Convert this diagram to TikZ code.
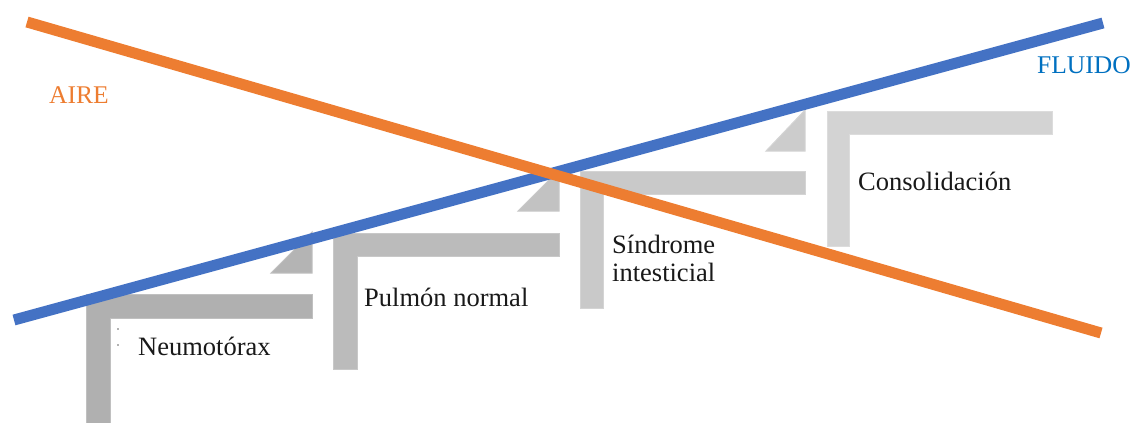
\documentclass[tikz,border=0pt]{standalone}
\usepackage{fontspec}
\setmainfont{Liberation Serif}
\definecolor{aireorange}{HTML}{ED7D31}
\definecolor{fluidoblue}{HTML}{4472C4}
\definecolor{fluidotext}{HTML}{0070C0}
\definecolor{gA}{HTML}{B0B0B0}\definecolor{gAe}{HTML}{C0C0C0}
\definecolor{gB}{HTML}{BBBBBB}\definecolor{gBe}{HTML}{C8C8C8}
\definecolor{gC}{HTML}{C9C9C9}\definecolor{gCe}{HTML}{D4D4D4}
\definecolor{gD}{HTML}{D3D3D3}\definecolor{gDe}{HTML}{DCDCDC}
\tikzset{
  label text/.style={inner sep=0pt, anchor=base west, text=black!90,
    font=\fontsize{26.5}{28}\selectfont, align=left},
  axis text/.style={inner sep=0pt, anchor=base west,
    font=\fontsize{25.5}{28}\selectfont},
  bar/.style={line width=11pt, line cap=butt},
  stair/.style={line width=1pt, line join=miter}
}
\begin{document}
\begin{tikzpicture}[x=1pt, y=-1pt]
  \useasboundingbox (0,0) rectangle (1136,423);
  \clip (0,0) rectangle (1136,423);

  % stepped gray brackets, darkest first
  \fill[gA, draw=gAe, stair] (86,294) -- (312,294) -- (312,318) -- (110,318) -- (110,430) -- (86,430) -- cycle;
  \fill[gA!95!white, draw=gAe, stair] (271,273) -- (312,273) -- (312,232) -- cycle;
  \fill[gB, draw=gBe, stair] (333,233) -- (559,233) -- (559,256) -- (357,256) -- (357,369) -- (333,369) -- cycle;
  \fill[gB!90!white, draw=gBe, stair] (518,211) -- (559,211) -- (559,170) -- cycle;
  \fill[gC, draw=gCe, stair] (580,171) -- (805,171) -- (805,194) -- (603,194) -- (603,308) -- (580,308) -- cycle;
  \fill[gC!95!white, draw=gCe, stair] (766,151) -- (805,151) -- (805,110) -- cycle;
  \fill[gD, draw=gDe, stair] (827,111) -- (1052,111) -- (1052,134) -- (849,134) -- (849,246) -- (827,246) -- cycle;

  % small marks beside the first label
  \fill[black!60] (118,329) circle (0.8pt);
  \fill[black!60] (118,345) circle (0.8pt);

  % labels (a two-line node sits on the baseline of its last line)
  \node[label text] (neumo) at (138,355) {Neumotórax};
  \node[label text] (pulmon) at (364,306) {Pulmón normal};
  \node[label text] (sindrome) at (612,281) {Síndrome\\intesticial};
  \node[label text] (consol) at (858,190) {Consolidación};
  \node[axis text, text=aireorange] (aire) at (49,103) {AIRE};
  \node[axis text, text=fluidotext] (fluido) at (1037,73) {FLUIDO};

  % crossing trend lines
  \coordinate (fluidoA) at (14,320);
  \coordinate (fluidoB) at (1103,23);
  \coordinate (aireA) at (27,22);
  \coordinate (aireB) at (1101,333);
  \draw[bar, fluidoblue] (fluidoA) -- (fluidoB);
  \draw[bar, aireorange] (aireA) -- (aireB);
\end{tikzpicture}
\end{document}
